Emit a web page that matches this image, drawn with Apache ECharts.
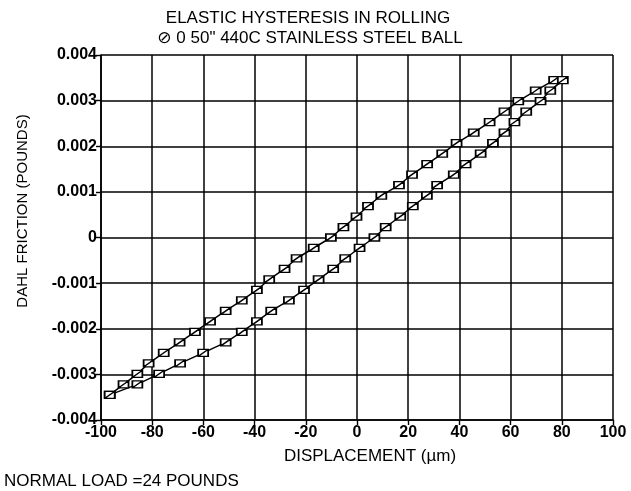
<!DOCTYPE html>
<html>
<head>
<meta charset="utf-8">
<script src="https://cdn.jsdelivr.net/npm/echarts@6/dist/echarts.min.js"></script>
<style>
html,body{margin:0;padding:0;background:#fff;}
#chart{width:631px;height:491px;}
</style>
</head>
<body>
<div id="chart"></div>
<script>
// Displacement (µm) of each marker on the upper (return) branch
const upperDisplacement = [-96.6, -91.2, -85.8, -81.4, -75.5, -69.3, -63.3, -57.4, -51.3, -45.0, -39.1, -34.3, -28.3, -23.6, -16.9, -10.2, -5.3, -0.2, 4.3, 9.5, 16.4, 21.5, 27.4, 33.3, 38.9, 45.6, 51.8, 57.6, 63.0, 69.8, 77.0];
// Displacement (µm) of each marker on the lower (forward) branch
const lowerDisplacement = [-96.6, -85.8, -77.3, -69.1, -60.1, -51.3, -45.0, -39.1, -33.5, -26.6, -20.7, -15.0, -9.3, -4.6, 1.0, 6.8, 11.2, 16.9, 21.8, 27.3, 31.3, 37.8, 42.4, 48.3, 53.1, 57.6, 61.5, 66.1, 71.7, 75.5, 80.4];
// Dahl friction (pounds) of the markers, shared by both branches
const frictionLevels = [-0.00345, -0.00322, -0.00299, -0.00276, -0.00253, -0.00230, -0.00207, -0.00184, -0.00161, -0.00138, -0.00115, -0.00092, -0.00069, -0.00046, -0.00023, 0, 0.00023, 0.00046, 0.00069, 0.00092, 0.00115, 0.00138, 0.00161, 0.00184, 0.00207, 0.00230, 0.00253, 0.00276, 0.00299, 0.00322, 0.00345];
const xTicks = [-100, -80, -60, -40, -20, 0, 20, 40, 60, 80, 100];
const yTicks = [-0.004, -0.003, -0.002, -0.001, 0, 0.001, 0.002, 0.003, 0.004];

const FONT = '"Liberation Sans", Arial, "DejaVu Sans", sans-serif';
const markerPath = 'path://M0,0L10,0L10,8L0,8Z M0,8L10,0';

function pairs(xs, ys) { return xs.map((x, i) => [x, ys[i]]); }

const chart = echarts.init(document.getElementById('chart'), null, {renderer: 'canvas'});

const seriesCommon = {
  type: 'line',
  symbol: markerPath,
  symbolSize: [10, 7],
  showAllSymbol: true,
  lineStyle: {color: '#000', width: 1.5},
  itemStyle: {color: '#fff', borderColor: '#000', borderWidth: 1.5},
  emphasis: {disabled: true},
  animation: false
};

chart.setOption({
  backgroundColor: '#fff',
  animation: false,
  grid: {left: 101, right: 18, top: 55, bottom: 71, containLabel: false},
  xAxis: {
    type: 'value',
    min: xTicks[0], max: xTicks[xTicks.length - 1], interval: 20,
    axisLine: {show: true, onZero: false, lineStyle: {color: '#000', width: 1.6}},
    axisTick: {show: true, inside: false, length: 5, lineStyle: {color: '#000', width: 1.4}},
    axisLabel: {color: '#000', fontFamily: FONT, fontSize: 16, fontWeight: 'bold', margin: 5},
    splitLine: {show: true, lineStyle: {color: '#000', width: 1.5}}
  },
  yAxis: {
    type: 'value',
    min: yTicks[0], max: yTicks[yTicks.length - 1], interval: 0.001,
    axisLine: {show: true, onZero: false, lineStyle: {color: '#000', width: 1.6}},
    axisTick: {show: true, inside: false, length: 5, lineStyle: {color: '#000', width: 1.4}},
    axisLabel: {color: '#000', fontFamily: FONT, fontSize: 16, fontWeight: 'bold', margin: 4,
      formatter: v => (Math.abs(v) < 1e-12 ? '0' : (+v.toFixed(3)).toString())},
    splitLine: {show: true, lineStyle: {color: '#000', width: 1.5}}
  },
  series: [
    Object.assign({name: 'upper', data: pairs(upperDisplacement, frictionLevels)}, seriesCommon),
    Object.assign({name: 'lower', data: pairs(lowerDisplacement, frictionLevels)}, seriesCommon)
  ],
  graphic: [
    {type: 'text', style: {text: 'ELASTIC HYSTERESIS IN ROLLING', x: 308, y: 18, fill: '#000', font: '17px ' + FONT, textAlign: 'center', textVerticalAlign: 'middle'}},
    {type: 'text', style: {text: '\u2298 0 50" 440C STAINLESS STEEL BALL', x: 310, y: 38, fill: '#000', font: '17px ' + FONT, textAlign: 'center', textVerticalAlign: 'middle'}},
    {type: 'text', style: {text: 'DISPLACEMENT (\u00b5m)', x: 370, y: 456, fill: '#000', font: '17px ' + FONT, textAlign: 'center', textVerticalAlign: 'middle'}},
    {type: 'text', rotation: Math.PI / 2, x: 23, y: 211, style: {text: 'DAHL FRICTION (POUNDS)', x: 0, y: 0, fill: '#000', font: '15px ' + FONT, textAlign: 'center', textVerticalAlign: 'middle'}},
    {type: 'text', style: {text: 'NORMAL LOAD =24 POUNDS', x: 4, y: 481, fill: '#000', font: '17px ' + FONT, textAlign: 'left', textVerticalAlign: 'middle'}}
  ]
});
</script>
</body>
</html>
